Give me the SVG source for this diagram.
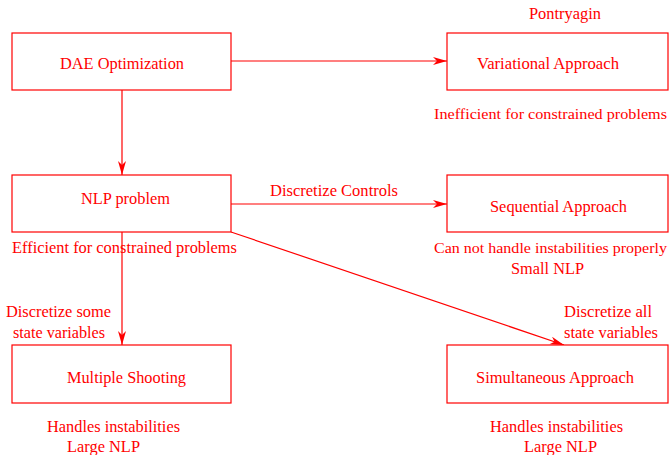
<svg xmlns="http://www.w3.org/2000/svg" width="672" height="455" viewBox="0 0 672 455">
<style>
.box{fill:#fff;stroke:#ff0000;stroke-width:1.2}
.t{font-family:"Liberation Serif","Times New Roman",serif;font-size:17px;fill:#ff0000}
.s{font-size:15px}
.c{fill:none;stroke:#ff0000;stroke-width:1.2}
</style>
<defs>
<marker id="ah" markerUnits="userSpaceOnUse" markerWidth="16" markerHeight="10" refX="14" refY="4" orient="auto">
<path d="M0,0 L14,4 L0,8 L4,4 z" fill="#ff0000"/>
</marker>
</defs>
<rect width="672" height="455" fill="#fff"/>
<g id="connectors">
<line class="c" x1="231" y1="61" x2="447" y2="61" marker-end="url(#ah)"/>
<line class="c" x1="122" y1="90" x2="122" y2="175" marker-end="url(#ah)"/>
<line class="c" x1="231" y1="204" x2="447" y2="204" marker-end="url(#ah)"/>
<line class="c" x1="122" y1="232" x2="122" y2="345" marker-end="url(#ah)"/>
<line class="c" x1="231" y1="232" x2="564" y2="345" marker-end="url(#ah)"/>
<text class="t" x="270" y="196" textLength="128" lengthAdjust="spacingAndGlyphs">Discretize Controls</text>
<text class="t" x="6" y="317" textLength="105" lengthAdjust="spacingAndGlyphs">Discretize some</text>
<text class="t" x="13" y="338" textLength="92" lengthAdjust="spacingAndGlyphs">state variables</text>
<text class="t" x="564" y="317" textLength="88" lengthAdjust="spacingAndGlyphs">Discretize all</text>
<text class="t" x="564" y="338" textLength="94" lengthAdjust="spacingAndGlyphs">state variables</text>
</g>
<g id="dae">
<rect class="box" x="12" y="33" width="219" height="57"/>
<text class="t" x="60" y="69" textLength="124" lengthAdjust="spacingAndGlyphs">DAE Optimization</text>
</g>
<g id="variational">
<rect class="box" x="447" y="33" width="221" height="57"/>
<text class="t" x="529" y="19" textLength="72" lengthAdjust="spacingAndGlyphs">Pontryagin</text>
<text class="t" x="477" y="69" textLength="142" lengthAdjust="spacingAndGlyphs">Variational Approach</text>
<text class="t s" x="434" y="119" textLength="233" lengthAdjust="spacingAndGlyphs">Inefficient for constrained problems</text>
</g>
<g id="nlp">
<rect class="box" x="12" y="175" width="219" height="57"/>
<text class="t" x="81" y="204" textLength="89" lengthAdjust="spacingAndGlyphs">NLP problem</text>
<text class="t" x="12" y="253" textLength="225" lengthAdjust="spacingAndGlyphs">Efficient for constrained problems</text>
</g>
<g id="sequential">
<rect class="box" x="447" y="175" width="221" height="57"/>
<text class="t" x="490" y="212" textLength="137" lengthAdjust="spacingAndGlyphs">Sequential Approach</text>
<text class="t s" x="434" y="253" textLength="233" lengthAdjust="spacingAndGlyphs">Can not handle instabilities properly</text>
<text class="t" x="511" y="274" textLength="73" lengthAdjust="spacingAndGlyphs">Small NLP</text>
</g>
<g id="multiple">
<rect class="box" x="12" y="345" width="219" height="58"/>
<text class="t" x="67" y="383" textLength="119" lengthAdjust="spacingAndGlyphs">Multiple Shooting</text>
<text class="t" x="47" y="432" textLength="133" lengthAdjust="spacingAndGlyphs">Handles instabilities</text>
<text class="t" x="67" y="452" textLength="73" lengthAdjust="spacingAndGlyphs">Large NLP</text>
</g>
<g id="simultaneous">
<rect class="box" x="447" y="345" width="221" height="58"/>
<text class="t" x="476" y="383" textLength="158" lengthAdjust="spacingAndGlyphs">Simultaneous Approach</text>
<text class="t" x="490" y="432" textLength="133" lengthAdjust="spacingAndGlyphs">Handles instabilities</text>
<text class="t" x="524" y="452" textLength="73" lengthAdjust="spacingAndGlyphs">Large NLP</text>
</g>
</svg>
